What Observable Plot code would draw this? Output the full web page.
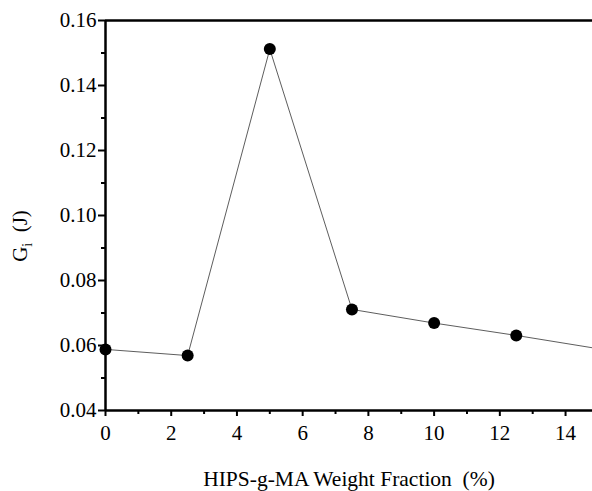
<!DOCTYPE html>
<html>
<head>
<meta charset="utf-8">
<script src="https://cdn.jsdelivr.net/npm/d3@7"></script>
<script src="https://cdn.jsdelivr.net/npm/@observablehq/plot@0.6"></script>
<style>
  html, body { margin: 0; padding: 0; background: #fff; }
  #chart svg { display: block; }
  #chart svg text, #chart svg tspan { font-family: "Liberation Serif", "DejaVu Serif", Times, serif !important; }
</style>
</head>
<body>
<div id="chart"></div>
<script>
// Data
const fraction = [0, 2.5, 5, 7.5, 10, 12.5];
const gi = [0.0588, 0.0569, 0.1512, 0.0711, 0.0669, 0.0631];
// the connecting line continues past the right edge of the frame
const lineFraction = [0, 2.5, 5, 7.5, 10, 12.5, 15];
const lineGi = [0.0588, 0.0569, 0.1512, 0.0711, 0.0669, 0.0631, 0.0590];

const xMajor = [0, 2, 4, 6, 8, 10, 12, 14];
const xMinor = [1, 3, 5, 7, 9, 11, 13];
const yMajor = [0.04, 0.06, 0.08, 0.10, 0.12, 0.14, 0.16];
const yMinor = [0.05, 0.07, 0.09, 0.11, 0.13, 0.15];
const xTitle = "HIPS-g-MA Weight Fraction  (%)";

const points = fraction.map((f, i) => ({f, g: gi[i]}));
const linePts = lineFraction.map((f, i) => ({f, g: lineGi[i]}));

const chart = Plot.plot({
  width: 592,
  height: 491,
  marginLeft: 105,
  marginRight: 0,
  marginTop: 20,
  marginBottom: 81,
  style: {fontFamily: "Liberation Serif, DejaVu Serif, serif", fontSize: "21px", color: "#000", background: "#fff"},
  x: {domain: [0, 14.82], label: null},
  y: {domain: [0.04, 0.16], label: null},
  marks: [
    Plot.line(linePts, {x: "f", y: "g", stroke: "#333", strokeWidth: 0.8, clip: true}),
    Plot.axisX({ticks: xMinor, tickSize: 4, tickFormat: () => "", strokeWidth: 2}),
    Plot.axisX({ticks: xMajor, tickSize: 6, tickPadding: 9, tickFormat: d => String(d), strokeWidth: 2, fontSize: 21}),
    Plot.axisY({ticks: yMinor, tickSize: 4, tickFormat: () => "", strokeWidth: 2}),
    Plot.axisY({ticks: yMajor, tickSize: 7, tickPadding: 2, tickFormat: d => d.toFixed(2), strokeWidth: 2, fontSize: 21}),
    Plot.ruleX([0], {strokeWidth: 2.5, stroke: "#000"}),
    Plot.ruleY([0.04], {strokeWidth: 2.5, stroke: "#000"}),
    Plot.ruleY([0.16], {strokeWidth: 2.5, stroke: "#000"}),
    Plot.dot(points, {x: "f", y: "g", r: 6, fill: "#000", stroke: "none"}),
    Plot.text([xTitle], {frameAnchor: "bottom", lineAnchor: "bottom", dy: 75, fontSize: 21.5, fill: "#000", text: d => d})
  ]
});

document.getElementById("chart").appendChild(chart);

// y-axis title with subscript
const svg = d3.select(chart);
const t = svg.append("text")
  .attr("transform", "translate(27,236) rotate(-90)")
  .attr("text-anchor", "middle")
  .attr("font-size", 21)
  .attr("fill", "#000");
t.append("tspan").text("G");
t.append("tspan").attr("font-size", 14).attr("dy", 5).text("i");
t.append("tspan").attr("dy", -5).text("\u00a0 (J)");
</script>
</body>
</html>
